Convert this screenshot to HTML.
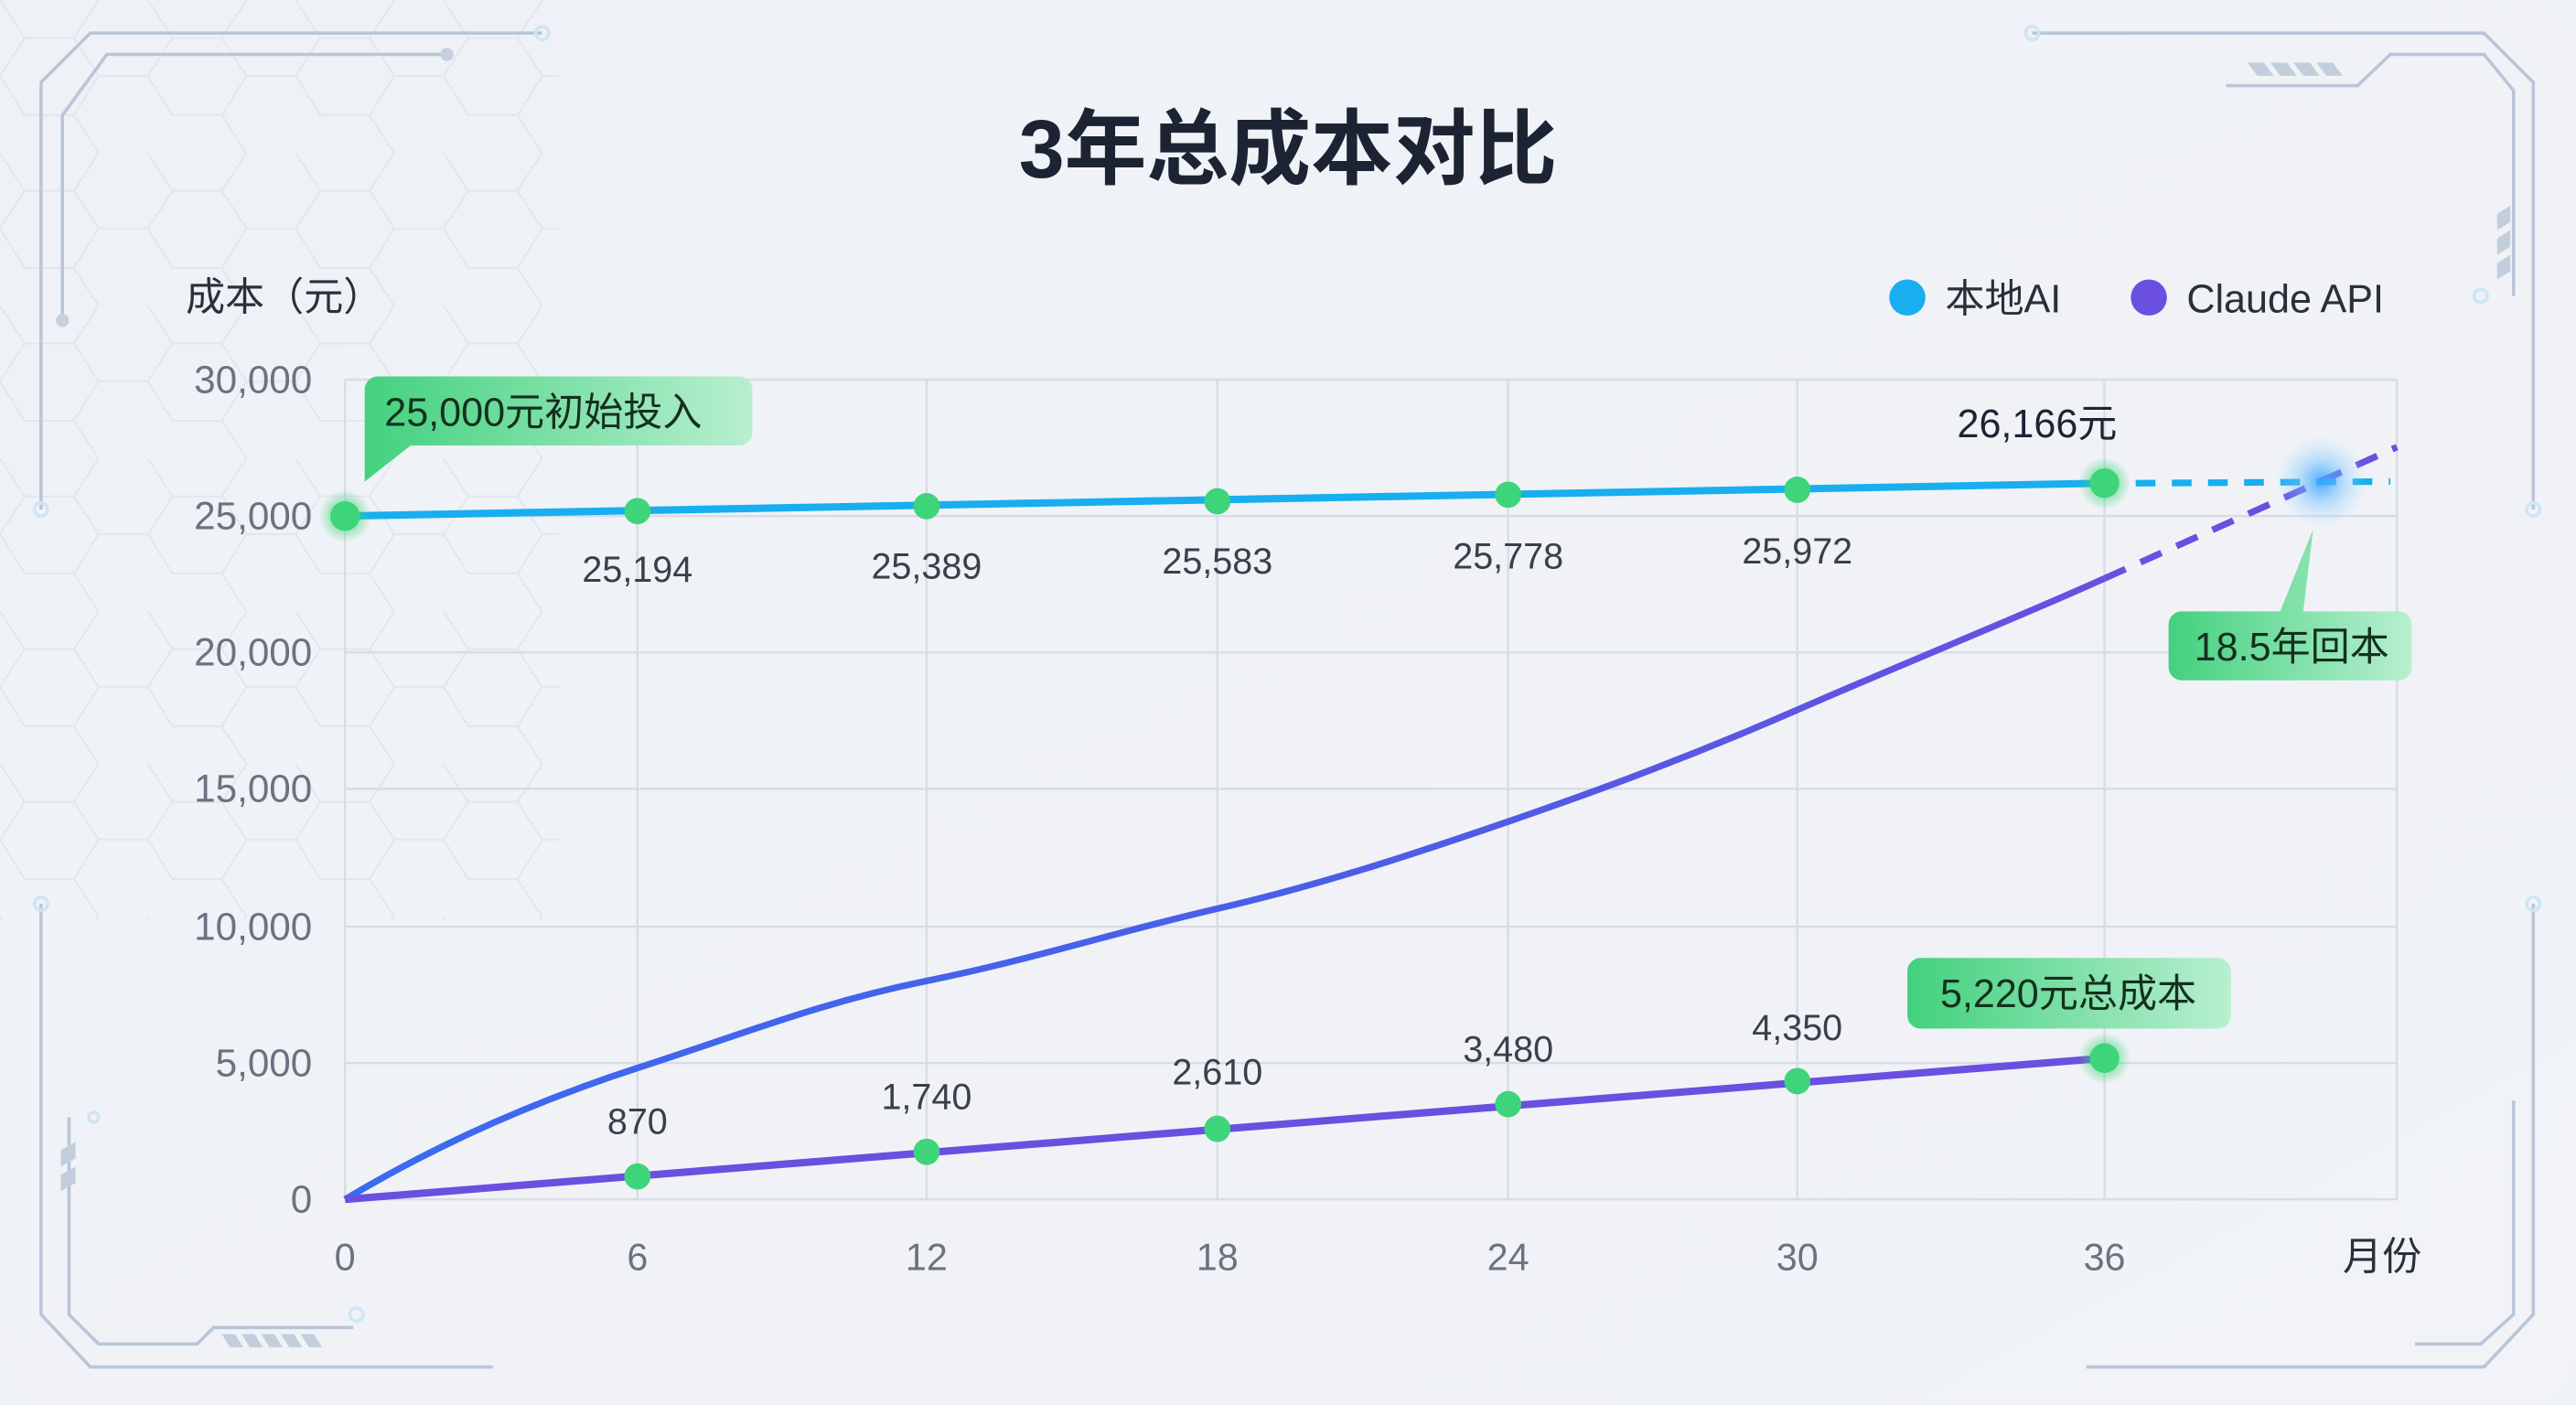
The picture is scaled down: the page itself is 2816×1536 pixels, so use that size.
<!DOCTYPE html>
<html><head><meta charset="utf-8"><style>
html,body{margin:0;padding:0;background:#eef1f6;}
svg{display:block}
text{font-family:"Liberation Sans","Noto Sans CJK SC",sans-serif;}
</style></head><body>
<svg width="2816" height="1536" viewBox="0 0 1568 855" xmlns="http://www.w3.org/2000/svg">
<defs>
<linearGradient id="bg" x1="0" y1="0" x2="1" y2="1"><stop offset="0" stop-color="#eef1f6"/><stop offset="1" stop-color="#f1f3f7"/></linearGradient>
<linearGradient id="curve" x1="0" y1="1" x2="1" y2="0"><stop offset="0" stop-color="#3a6cf0"/><stop offset="0.5" stop-color="#4a5ee8"/><stop offset="1" stop-color="#6a4fe0"/></linearGradient>
<linearGradient id="tag" x1="0" y1="0" x2="1" y2="0"><stop offset="0" stop-color="#43d17e"/><stop offset="1" stop-color="#b8efd0"/></linearGradient>
<radialGradient id="glow"><stop offset="0" stop-color="#3aa0ff" stop-opacity="0.9"/><stop offset="0.5" stop-color="#6cc0ff" stop-opacity="0.4"/><stop offset="1" stop-color="#9dd8ff" stop-opacity="0"/></radialGradient>
<radialGradient id="gdot"><stop offset="0.5" stop-color="#3dd47a" stop-opacity="0.5"/><stop offset="1" stop-color="#3dd47a" stop-opacity="0"/></radialGradient>
<pattern id="hex" width="90" height="93" patternUnits="userSpaceOnUse">
<path d="M0 0 L15 23 L0 46 M15 23 L45 23 L60 0 M45 23 L60 46 L45 70 L15 70 L0 46 M60 46 L90 46 M45 70 L60 93" fill="none" stroke="#dde3ec" stroke-width="1"/>
</pattern>
</defs>
<rect width="1568" height="855" rx="28" fill="url(#bg)"/>
<rect x="0" y="0" width="340" height="560" fill="url(#hex)" opacity="0.8"/>
<g fill="none" stroke="#b9c6d8" stroke-width="2">
<path d="M330 20 L55 20 L25 50 L25 310"/>
<path d="M272 33 L65 33 L38 70 L38 195"/>
<path d="M1237 20 L1512 20 L1542 50 L1542 310"/>
<path d="M1355 52 L1435 52 L1455 33 L1512 33 L1530 55 L1530 180"/>
<path d="M25 550 L25 800 L55 832 L300 832"/>
<path d="M42 680 L42 800 L60 818 L120 818 L130 808 L215 808"/>
<path d="M1542 550 L1542 800 L1512 832 L1270 832"/>
<path d="M1530 670 L1530 800 L1510 818 L1470 818"/>
</g>
<g fill="#c6d0de"><circle cx="272" cy="33" r="4"/><circle cx="38" cy="195" r="4"/></g>
<g fill="none" stroke="#cde6f5" stroke-width="2"><circle cx="330" cy="20" r="4"/><circle cx="1237" cy="20" r="4"/><circle cx="25" cy="310" r="4"/><circle cx="1542" cy="310" r="4"/><circle cx="25" cy="550" r="4"/><circle cx="1542" cy="550" r="4"/><circle cx="1510" cy="180" r="4"/><circle cx="217" cy="800" r="4"/><circle cx="57" cy="680" r="3"/></g>
<g fill="#c3cedc"><path d="M1368 38 h10 l6 8 h-10z M1382 38 h10 l6 8 h-10z M1396 38 h10 l6 8 h-10z M1410 38 h10 l6 8 h-10z"/>
<path d="M135 812 h8 l5 8 h-8z M147 812 h8 l5 8 h-8z M159 812 h8 l5 8 h-8z M171 812 h8 l5 8 h-8z M183 812 h8 l5 8 h-8z"/>
<path d="M1520 130 l8 -5 v10 l-8 5z M1520 145 l8 -5 v10 l-8 5z M1520 160 l8 -5 v10 l-8 5z"/>
<path d="M37 700 l9 -5 v10 l-9 5z M37 715 l9 -5 v10 l-9 5z"/></g>

<text x="784" y="108" text-anchor="middle" font-size="50" font-weight="bold" fill="#1c2433">3年总成本对比</text>
<text x="113" y="189" font-size="24" fill="#2a2f3a">成本（元）</text>
<circle cx="1161" cy="181" r="11" fill="#18aef0"/>
<text x="1184" y="190" font-size="24" fill="#2a2f3a">本地AI</text>
<circle cx="1308" cy="181" r="11" fill="#6a4fe0"/>
<text x="1331" y="190" font-size="24" fill="#2a2f3a">Claude API</text>

<g stroke="#d7dce5" stroke-width="1.3">
<line x1="210" y1="231" x2="1459" y2="231"/><line x1="210" y1="314" x2="1459" y2="314"/><line x1="210" y1="397" x2="1459" y2="397"/><line x1="210" y1="480" x2="1459" y2="480"/><line x1="210" y1="564" x2="1459" y2="564"/><line x1="210" y1="647" x2="1459" y2="647"/><line x1="210" y1="730" x2="1459" y2="730"/>
<line x1="210" y1="231" x2="210" y2="730"/><line x1="388" y1="231" x2="388" y2="730"/><line x1="564" y1="231" x2="564" y2="730"/><line x1="741" y1="231" x2="741" y2="730"/><line x1="918" y1="231" x2="918" y2="730"/><line x1="1094" y1="231" x2="1094" y2="730"/><line x1="1281" y1="231" x2="1281" y2="730"/><line x1="1459" y1="231" x2="1459" y2="730"/>
</g>
<g font-size="23.5" fill="#6b7280" text-anchor="end">
<text x="190" y="239">30,000</text><text x="190" y="322">25,000</text><text x="190" y="405">20,000</text><text x="190" y="488">15,000</text><text x="190" y="572">10,000</text><text x="190" y="655">5,000</text><text x="190" y="738">0</text>
</g>
<g font-size="23" fill="#6b7280" text-anchor="middle">
<text x="210" y="773">0</text><text x="388" y="773">6</text><text x="564" y="773">12</text><text x="741" y="773">18</text><text x="918" y="773">24</text><text x="1094" y="773">30</text><text x="1281" y="773">36</text>
</g>
<text x="1450" y="773" font-size="24" fill="#2a2f3a" text-anchor="middle">月份</text>

<path d="M210 730 C260 700,320 672,388 650 S500 610,564 597 S680 567,741 553 S860 520,918 500 S1030 460,1094 432 S1230 375,1281 352" fill="none" stroke="url(#curve)" stroke-width="4"/>
<line x1="1281" y1="352" x2="1459" y2="272" stroke="#6a4fe0" stroke-width="4" stroke-dasharray="14 10"/>
<line x1="210" y1="314" x2="1281" y2="294" stroke="#18aef0" stroke-width="4.5"/>
<line x1="1300" y1="294" x2="1455" y2="293" stroke="#18aef0" stroke-width="4" stroke-dasharray="12 10"/>
<line x1="210" y1="730" x2="1281" y2="644" stroke="#6a4fe0" stroke-width="4.5"/>

<g>
<circle cx="210" cy="314" r="16" fill="url(#gdot)"/><circle cx="210" cy="314" r="9" fill="#3dd47a"/>
<circle cx="388" cy="311" r="8" fill="#3dd47a"/><circle cx="564" cy="308" r="8" fill="#3dd47a"/><circle cx="741" cy="305" r="8" fill="#3dd47a"/><circle cx="918" cy="301" r="8" fill="#3dd47a"/><circle cx="1094" cy="298" r="8" fill="#3dd47a"/>
<circle cx="1281" cy="294" r="16" fill="url(#gdot)"/><circle cx="1281" cy="294" r="9" fill="#3dd47a"/>
<circle cx="388" cy="716" r="8" fill="#3dd47a"/><circle cx="564" cy="701" r="8" fill="#3dd47a"/><circle cx="741" cy="687" r="8" fill="#3dd47a"/><circle cx="918" cy="672" r="8" fill="#3dd47a"/><circle cx="1094" cy="658" r="8" fill="#3dd47a"/>
<circle cx="1281" cy="644" r="16" fill="url(#gdot)"/><circle cx="1281" cy="644" r="9" fill="#3dd47a"/>
<circle cx="1413" cy="293" r="28" fill="url(#glow)"/>
</g>
<g font-size="22" fill="#3a3f4a" text-anchor="middle">
<text x="388" y="354">25,194</text><text x="564" y="352">25,389</text><text x="741" y="349">25,583</text><text x="918" y="346">25,778</text><text x="1094" y="343">25,972</text>
<text x="388" y="690">870</text><text x="564" y="675">1,740</text><text x="741" y="660">2,610</text><text x="918" y="646">3,480</text><text x="1094" y="633">4,350</text>
</g>
<text x="1240" y="266" font-size="24" fill="#1c2433" text-anchor="middle">26,166元</text>

<path d="M228 229 h222 a8 8 0 0 1 8 8 v26 a8 8 0 0 1 -8 8 h-200 l-28 22 v-56 a8 8 0 0 1 8 -8z" fill="url(#tag)"/>
<text x="234" y="259" font-size="24" fill="#14301f">25,000元初始投入</text>
<path d="M1328 372 h60 l20 -50 l-6 50 h58 a8 8 0 0 1 8 8 v26 a8 8 0 0 1 -8 8 h-132 a8 8 0 0 1 -8 -8 v-26 a8 8 0 0 1 8 -8z" fill="url(#tag)"/>
<text x="1395" y="402" font-size="24" fill="#14301f" text-anchor="middle">18.5年回本</text>
<rect x="1161" y="583" width="197" height="43" rx="8" fill="url(#tag)"/>
<text x="1259" y="613" font-size="24" fill="#14301f" text-anchor="middle">5,220元总成本</text>
</svg>
</body></html>
